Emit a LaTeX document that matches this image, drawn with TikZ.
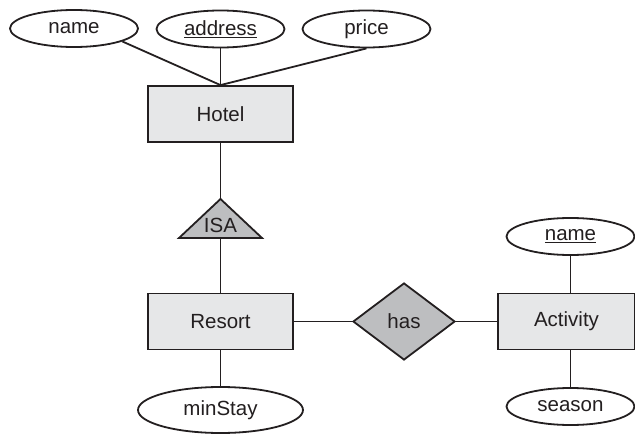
\documentclass[tikz,border=0pt]{standalone}
\usepackage{fontspec}
\setmainfont{Liberation Sans}
\usepackage{tikz}
\usetikzlibrary{positioning, shapes.geometric}

\definecolor{inkdark}{HTML}{231F20}
\definecolor{entfill}{HTML}{E6E7E8}
\definecolor{relfill}{HTML}{BDBEC0}

\begin{document}
\begin{tikzpicture}[
    x=1pt, y=-1pt,
    entity/.style={rectangle, draw=inkdark, fill=entfill, line width=1.8pt, minimum width=145pt, minimum height=56pt, inner sep=0pt},
    attr/.style={ellipse, draw=inkdark, fill=white, line width=1.8pt, minimum width=128pt, minimum height=37pt, inner sep=0pt},
    rel/.style={diamond, draw=inkdark, fill=relfill, line width=1.8pt, aspect=1.32, minimum width=102pt, minimum height=77pt, inner sep=0pt},
    link/.style={draw=inkdark, line width=1.8pt},
    every node/.style={font=\fontsize{20.5}{24}\selectfont, text=inkdark}
]
    \useasboundingbox (0,0) rectangle (635,436);

    % entities
    \node[entity] (hotel) at (220.5,114) {Hotel};
    \node[entity] (resort) at (220.5,321.5) {Resort};
    \node[entity, minimum width=137pt] (activity) at (566.5,321.5) {Activity};

    % attributes
    \node[attr] (name) at (74,28.5) {name};
    \node[attr] (address) at (220.5,29) {\underline{address}};
    \node[attr] (price) at (366.5,29) {price};
    \node[attr, minimum width=165pt, minimum height=46pt] (minstay) at (220.5,410) {minStay};
    \node[attr] (actname) at (570.5,236.5) {\underline{name}};
    \node[attr] (season) at (570.5,406.5) {season};

    % relationship
    \node[rel] (has) at (404,321.5) {has};

    % ISA triangle
    \coordinate (isatop) at (220.5,199);
    \coordinate (isabot) at (220.5,238);
    \draw[link, fill=relfill, line join=miter] (isatop) -- (262,238) -- (179,238) -- cycle;
    \node (isa) at (220.5,225) {ISA};

    \draw[link] (name.-15) -- (hotel.north);
    \draw[link] (address) -- (hotel.north);
    \draw[link] (price.south) -- (hotel.north);
    \draw[link] (hotel) -- (isatop);
    \draw[link] (isabot) -- (resort);
    \draw[link] (resort) -- (minstay);
    \draw[link] (resort) -- (has);
    \draw[link] (has) -- (activity);
    \draw[link] (actname) -- (actname.south |- activity.north);
    \draw[link] (season) -- (season.north |- activity.south);
\end{tikzpicture}
\end{document}
